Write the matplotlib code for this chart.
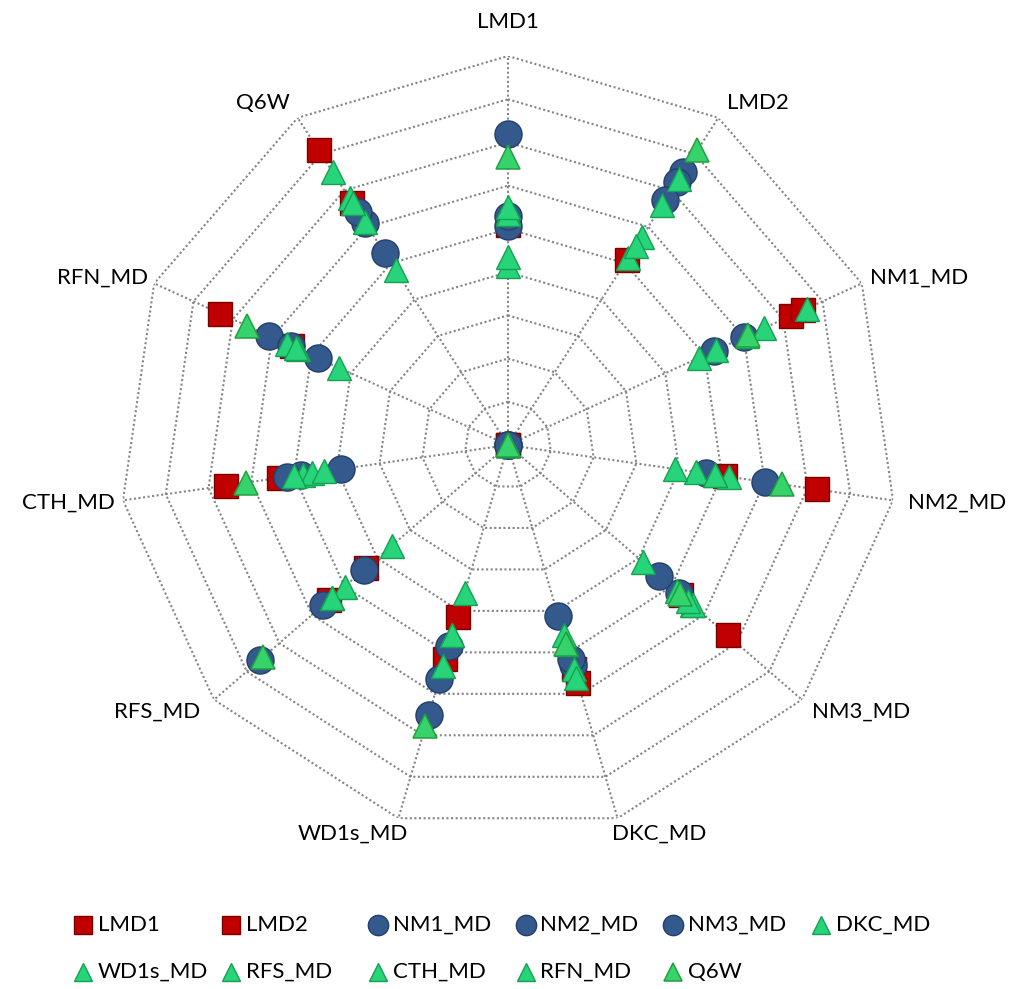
import numpy as np
import matplotlib
matplotlib.use("Agg")
import matplotlib.pyplot as plt
from matplotlib.lines import Line2D

plt.rcParams['font.family'] = ['Lato', 'DejaVu Sans']

categories = ["LMD1", "LMD2", "NM1_MD", "NM2_MD", "NM3_MD", "DKC_MD",
              "WD1s_MD", "RFS_MD", "CTH_MD", "RFN_MD", "Q6W"]

# values of each series on each axis (same order as categories)
lmd1   = [0.00, 5.10, 7.20, 5.07, 5.30, 5.40, 4.14, 4.36, 5.35, 5.50, 6.66]
lmd2   = [5.10, 0.00, 7.50, 7.23, 6.73, 5.73, 5.15, 5.47, 6.60, 7.32, 8.10]
nm1_md = [7.20, 7.50, 0.00, 6.00, 5.24, 5.30, 6.50, 7.60, 4.85, 6.08, 6.10]
nm2_md = [5.07, 7.23, 6.00, 0.00, 4.63, 5.17, 4.85, 4.40, 3.90, 4.84, 6.40]
nm3_md = [5.30, 6.73, 5.24, 4.63, 0.00, 4.13, 5.64, 5.66, 5.17, 5.52, 5.28]
dkc_md = [5.40, 5.73, 5.30, 5.17, 4.13, 0.00, 4.57, 5.40, 4.80, 5.62, 4.80]
wd1s_md = [4.14, 5.15, 6.50, 4.85, 5.64, 4.57, 0.00, 3.56, 4.57, 5.33, 6.78]
rfs_md = [4.36, 5.47, 7.60, 4.40, 5.66, 5.40, 3.56, 0.00, 5.00, 5.40, 7.50]
cth_md = [5.35, 6.60, 4.85, 3.90, 5.17, 4.80, 4.57, 5.00, 0.00, 4.30, 6.12]
rfn_md = [5.50, 7.32, 6.08, 4.84, 5.52, 5.62, 5.33, 5.40, 4.30, 0.00, 6.65]
q6w    = [6.66, 8.10, 6.10, 6.40, 5.28, 4.80, 6.78, 7.50, 6.12, 6.65, 0.00]

series_names = ["LMD1", "LMD2", "NM1_MD", "NM2_MD", "NM3_MD", "DKC_MD",
                "WD1s_MD", "RFS_MD", "CTH_MD", "RFN_MD", "Q6W"]
series_values = [lmd1, lmd2, nm1_md, nm2_md, nm3_md, dkc_md,
                 wd1s_md, rfs_md, cth_md, rfn_md, q6w]

r_max = 9
n_rings = 9

# styles
sq = dict(marker='s', markersize=17.5, markerfacecolor='#C00000', markeredgecolor='#7A0000', markeredgewidth=1.0)
ci = dict(marker='o', markersize=19.5, markerfacecolor='#34598C', markeredgecolor='#24406A', markeredgewidth=1.0)
tr = dict(marker='^', markersize=17, markerfacecolor='#27D47A', markeredgecolor='#15A052', markeredgewidth=1.0)
tr_q = dict(marker='^', markersize=17, markerfacecolor='#36D36C', markeredgecolor='#22A03E', markeredgewidth=1.1)
styles = [sq, sq, ci, ci, ci, tr, tr, tr, tr, tr, tr_q]

W, H = 1018, 989
fig = plt.figure(figsize=(W / 100, H / 100), dpi=100)
cx, cy, R = 508, 445, 389
ax = fig.add_axes([(cx - R) / W, (H - cy - R) / H, 2 * R / W, 2 * R / H], projection='polar')
ax.set_theta_zero_location('N')
ax.set_theta_direction(-1)
ax.set_ylim(0, r_max)
ax.grid(False)
ax.set_xticks([])
ax.set_yticks([])
ax.spines['polar'].set_visible(False)
ax.patch.set_alpha(0)

n = len(categories)
theta = np.linspace(0, 2 * np.pi, n, endpoint=False)
theta_c = np.append(theta, theta[0])

grid_kw = dict(color='#858585', linestyle=(0, (1, 1.2)), linewidth=1.5, zorder=1)
for k in range(1, n_rings + 1):
    rr = r_max * k / n_rings
    ax.plot(theta_c, [rr] * (n + 1), **grid_kw)
for t in theta:
    ax.plot([t, t], [0, r_max], **grid_kw)

for name, vals, st in zip(series_names, series_values, styles):
    ax.plot(theta, vals, linestyle='none', zorder=3, label=name, clip_on=False, **st)

# axis labels
label_pos = {
    "LMD1": (0, 34, 'center'),
    "LMD2": (9, 15, 'left'),
    "NM1_MD": (8, 6, 'left'),
    "NM2_MD": (15, -2, 'left'),
    "NM3_MD": (10, -12, 'left'),
    "DKC_MD": (-6, -15, 'left'),
    "WD1s_MD": (10, -15, 'right'),
    "RFS_MD": (-14, -12, 'right'),
    "CTH_MD": (-8, -2, 'right'),
    "RFN_MD": (-6, 6, 'right'),
    "Q6W": (-8, 15, 'right'),
}
for t, cat in zip(theta, categories):
    dx, dy, ha = label_pos[cat]
    ax.annotate(cat, xy=(t, r_max), xytext=(dx, dy), textcoords='offset pixels',
                ha=ha, va='center', fontsize=16, color='#000000', annotation_clip=False)

# legend: equal-width columns, two rows
col_x0, col_w = 83, 147.5
row_y = [925, 972]
for i, (name, st) in enumerate(zip(series_names, styles)):
    col, row = i % 6, i // 6
    mx = col_x0 + col * col_w
    my = row_y[row]
    lst = dict(st)
    lst['markersize'] = st['markersize'] * 0.75
    fig.add_artist(Line2D([mx / W], [1 - my / H], transform=fig.transFigure, linestyle='none', **lst))
    fig.text((mx + 15) / W, 1 - my / H, name, ha='left', va='center', fontsize=16, color='#000000')

fig.savefig('out.png', dpi=100)
